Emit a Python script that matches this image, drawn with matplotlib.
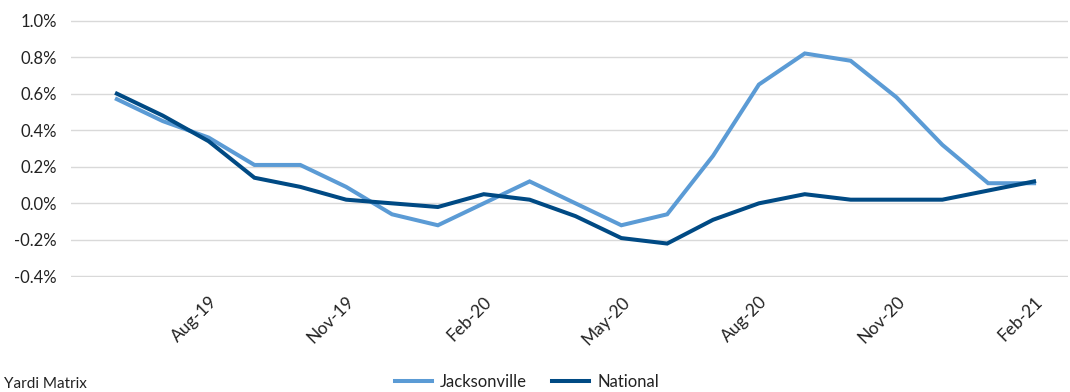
import matplotlib
matplotlib.use("Agg")
import matplotlib.pyplot as plt
from matplotlib.ticker import FuncFormatter, FixedLocator

months = ["Jun-19", "Jul-19", "Aug-19", "Sep-19", "Oct-19", "Nov-19", "Dec-19",
          "Jan-20", "Feb-20", "Mar-20", "Apr-20", "May-20", "Jun-20", "Jul-20",
          "Aug-20", "Sep-20", "Oct-20", "Nov-20", "Dec-20", "Jan-21", "Feb-21"]
jacksonville = [0.57, 0.45, 0.36, 0.21, 0.21, 0.09, -0.06, -0.12, 0.00, 0.12, 0.00,
                -0.12, -0.06, 0.26, 0.65, 0.82, 0.78, 0.58, 0.32, 0.11, 0.11]
national = [0.60, 0.48, 0.34, 0.14, 0.09, 0.02, 0.00, -0.02, 0.05, 0.02, -0.07,
            -0.19, -0.22, -0.09, 0.00, 0.05, 0.02, 0.02, 0.02, 0.07, 0.12]
tick_labels = ["Aug-19", "Nov-19", "Feb-20", "May-20", "Aug-20", "Nov-20", "Feb-21"]
y_ticks = [-0.4, -0.2, 0.0, 0.2, 0.4, 0.6, 0.8, 1.0]

plt.rcParams['font.family'] = ['Lato', 'DejaVu Sans']

fig = plt.figure(figsize=(10.7, 3.92), dpi=100)
W, H = 1070, 392
left, right, top, bottom = 71, 1068, 20, 277
ax = fig.add_axes([left / W, 1 - bottom / H, (right - left) / W, (bottom - top) / H])

x = list(range(len(months)))
ax.plot(x, jacksonville, color="#5B9BD5", lw=2.9, label="Jacksonville", solid_joinstyle='miter')
ax.plot(x, national, color="#004A84", lw=2.9, label="National", solid_joinstyle='miter')

ax.set_ylim(-0.403, 1.003)
ax.set_xlim(-1.0, 20.74)
ax.set_yticks(y_ticks)
ax.yaxis.set_major_formatter(FuncFormatter(lambda v, p: f"{v:.1f}%"))
ax.grid(axis='y', color="#D9D9D9", lw=1)
ax.set_axisbelow(True)

tick_pos = [months.index(t) for t in tick_labels]
ax.xaxis.set_major_locator(FixedLocator(tick_pos))
ax.set_xticklabels(tick_labels, rotation=45, ha='right', rotation_mode='anchor',
                   fontsize=12.5, color="#222222")
ax.tick_params(axis='x', length=0, pad=12)
ax.tick_params(axis='y', length=0, pad=10, labelsize=12, labelcolor="#222222")
for s in ax.spines.values():
    s.set_visible(False)

fig.legend(loc='center', bbox_to_anchor=(527 / W, 1 - 382 / H), ncol=2, frameon=False,
           fontsize=12, handlelength=2.2, columnspacing=1.5, handletextpad=0.5,
           labelcolor="#222222")
fig.text(4 / W, 1 - 377 / H, "Yardi Matrix", fontsize=11, va='top', ha='left', color="#222222")

fig.savefig("out.png", dpi=100)
